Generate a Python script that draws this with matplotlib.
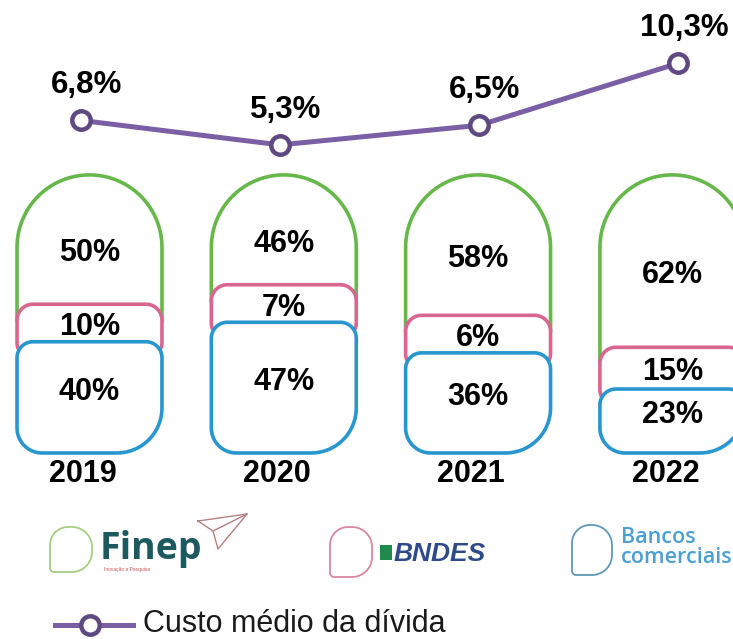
import numpy as np
import matplotlib
matplotlib.use("Agg")
import matplotlib.pyplot as plt
from matplotlib.patches import Polygon
from matplotlib.lines import Line2D

plt.rcParams['font.family'] = ['Liberation Sans', 'DejaVu Sans']

# data
years = ['2019', '2020', '2021', '2022']
finep = [50, 46, 58, 62]
bndes = [10, 7, 6, 15]
bancos = [40, 47, 36, 23]
custo = [6.8, 5.3, 6.5, 10.3]
custo_labels = ['6,8%', '5,3%', '6,5%', '10,3%']

GREEN = '#66b84a'
PINK = '#d9668f'
BLUE = '#2896cf'
PURPLE = '#7b5fa5'
PURPLE_DARK = '#5e4a80'

W, H = 733, 639
fig = plt.figure(figsize=(W / 100, H / 100), dpi=100)
fig.patch.set_facecolor('white')


def rounded_poly(x0, x1, y0, y1, r_tl, r_tr, r_br, r_bl, sx, sy, n=20):
    # corner radii given in pixels, sx / sy = pixels per data unit
    pts = []
    corners = [
        ((x0 + r_bl / sx, y0 + r_bl / sy), r_bl, 180, 270),
        ((x1 - r_br / sx, y0 + r_br / sy), r_br, 270, 360),
        ((x1 - r_tr / sx, y1 - r_tr / sy), r_tr, 0, 90),
        ((x0 + r_tl / sx, y1 - r_tl / sy), r_tl, 90, 180),
    ]
    for (cx, cy), r, a0, a1 in corners:
        t = np.radians(np.linspace(a0, a1, n))
        pts += list(zip(cx + r / sx * np.cos(t), cy + r / sy * np.sin(t)))
    return np.array(pts)


# ---- capsules (stacked shares) ----
ax = fig.add_axes([0, 0, 1, 1])
ax.set_xlim(-0.4606, 3.312)
ax.set_ylim(-66.9, 162.9)
ax.axis('off')
sx = W / (3.312 + 0.4606)
sy = H / (162.9 + 66.9)

bw = 0.746
half_px = bw * sx / 2
min_band = 13.5   # keep the thin BNDES band readable
lw = 2.6

for i in range(len(years)):
    x0, x1 = i - bw / 2, i + bw / 2
    b_top = bancos[i]
    p_top = b_top + max(bndes[i], min_band)

    # Finep: open capsule top
    r_y = half_px / sy
    t = np.radians(np.linspace(180, 0, 60))
    gx = np.concatenate([[x0], i + bw / 2 * np.cos(t), [x1]])
    gy = np.concatenate([[p_top - 6], 100 - r_y + r_y * np.sin(t), [p_top - 6]])
    ax.plot(gx, gy, color=GREEN, lw=lw, solid_capstyle='round', zorder=1)

    # BNDES band
    pp = rounded_poly(x0, x1, b_top - 6, p_top, 16, 16, 16, 16, sx, sy)
    ax.add_patch(Polygon(pp, closed=True, facecolor='white', edgecolor=PINK,
                         lw=lw, zorder=2))

    # Bancos comerciais bottom
    bp = rounded_poly(x0, x1, 0, b_top, 16, 16, 45, 25, sx, sy)
    ax.add_patch(Polygon(bp, closed=True, facecolor='white', edgecolor=BLUE,
                         lw=lw, zorder=3))

    kw = dict(ha='center', va='center', fontsize=22, fontweight='bold',
              color='black', zorder=5)
    ax.text(i, (p_top + 100) / 2 - 5, f'{finep[i]}%', **kw)
    ax.text(i, (b_top + p_top) / 2 - 1.5, f'{bndes[i]}%', **kw)
    ax.text(i, b_top / 2 + 2, f'{bancos[i]}%', **kw)

    ax.annotate(years[i], (i, -7.4), xytext=(-7, 0), textcoords='offset pixels',
                ha='center', va='center', fontsize=22, fontweight='bold')

# ---- line: custo medio da divida ----
axl = fig.add_axes([0, 0, 1, 1])
axl.patch.set_alpha(0)
axl.axis('off')
axl.set_xlim(-0.407, 3.276)
axl.set_ylim(-24.98, 14.18)
xs = np.arange(len(years))
axl.plot(xs, custo, color=PURPLE, lw=3.6, marker='o', markersize=13.3,
         markerfacecolor='white', markeredgecolor=PURPLE_DARK,
         markeredgewidth=3.2, zorder=4)
for x, v, lab in zip(xs, custo, custo_labels):
    axl.annotate(lab, (x, v), xytext=(6, 35), textcoords='offset pixels',
                 ha='center', va='center', fontsize=22.5, fontweight='bold')

# ---- legend (logos) in figure pixels, y from top ----
def fp(x, y):
    return x / W, 1 - y / H


def blob(x0, x1, ytop, ybot, color):
    pts = rounded_poly(x0, x1, H - ybot, H - ytop, 18, 20, 20, 4, 1, 1)
    pts = pts / [W, H]
    fig.add_artist(Polygon(pts, closed=True, transform=fig.transFigure,
                           facecolor='none', edgecolor=color, lw=1.3))


blob(50, 92, 527, 572, '#a6cf80')
fig.text(*fp(100, 559), 'Finep', fontsize=27, fontweight='bold',
         family=['Open Sans', 'DejaVu Sans'], color='#1d5a60', va='baseline')
fig.text(*fp(104, 569), 'Inovação e Pesquisa', fontsize=3.5, color='#d05050',
         va='center')
plane = [fp(198, 521), fp(247, 514), fp(218, 549), fp(213, 531), fp(198, 521)]
fig.add_artist(Line2D([p[0] for p in plane], [p[1] for p in plane],
                      transform=fig.transFigure, color='#b58080', lw=1))
fig.add_artist(Line2D([fp(213, 531)[0], fp(247, 514)[0]],
                      [fp(213, 531)[1], fp(247, 514)[1]],
                      transform=fig.transFigure, color='#b58080', lw=1))

blob(330, 372, 527, 577, '#d9879f')
fig.add_artist(Polygon([fp(380, 545), fp(392, 545), fp(392, 560), fp(380, 560)],
                       closed=True, transform=fig.transFigure,
                       facecolor='#1f8a4c', edgecolor='none'))
fig.text(*fp(394, 561), 'BNDES', fontsize=19, fontweight='bold', style='italic',
         color='#2f4a8a', va='baseline')

blob(572, 612, 525, 575, '#5f98b8')
fig.text(*fp(621, 543), 'Bancos', fontsize=15.5, fontweight='semibold',
         family=['Open Sans', 'DejaVu Sans'], color='#4b9fd3', va='baseline')
fig.text(*fp(621, 563), 'comerciais', fontsize=15.5, fontweight='semibold',
         family=['Open Sans', 'DejaVu Sans'], color='#4b9fd3', va='baseline')

# line legend
fig.add_artist(Line2D([fp(55, 625)[0], fp(133, 625)[0]], [fp(55, 625)[1]] * 2,
                      transform=fig.transFigure, color=PURPLE, lw=3.6))
fig.add_artist(Line2D([fp(90, 625)[0]], [fp(90, 625)[1]], transform=fig.transFigure,
                      marker='o', markersize=13.3, markerfacecolor='white',
                      markeredgecolor=PURPLE_DARK, markeredgewidth=3.2))
fig.text(*fp(143, 632), 'Custo médio da dívida', fontsize=22, color='#1a1a1a',
         va='baseline')

fig.savefig('out.png', dpi=100, facecolor='white')
